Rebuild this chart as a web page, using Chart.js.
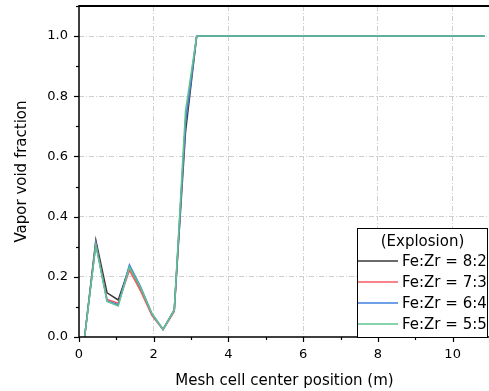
<!DOCTYPE html>
<html>
<head>
<meta charset="utf-8">
<script src="https://cdn.jsdelivr.net/npm/chart.js@4.4.1/dist/chart.umd.min.js"></script>
<style>
html,body{margin:0;padding:0;background:#fff;overflow:hidden;}
#wrap{position:relative;width:490px;height:391px;}
</style>
</head>
<body>
<div id="wrap"><canvas id="c"></canvas></div>
<script>
const positions = [0.15, 0.45, 0.75, 1.05, 1.35, 1.65, 1.95, 2.25, 2.55, 2.85, 3.15, 10.85];
const fe82 = [0, 0.322, 0.147, 0.123, 0.233, 0.160, 0.075, 0.025, 0.090, 0.68, 1.0, 1.0];
const fe73 = [0, 0.310, 0.125, 0.112, 0.222, 0.152, 0.072, 0.024, 0.085, 0.72, 1.0, 1.0];
const fe64 = [0, 0.310, 0.120, 0.107, 0.240, 0.167, 0.078, 0.025, 0.090, 0.71, 1.0, 1.0];
const fe55 = [0, 0.305, 0.118, 0.103, 0.233, 0.163, 0.078, 0.025, 0.090, 0.75, 1.0, 1.0];
const seriesLabels = ['Fe:Zr = 8:2', 'Fe:Zr = 7:3', 'Fe:Zr = 6:4', 'Fe:Zr = 5:5'];
const legendTitle = '(Explosion)';
const xTitle = 'Mesh cell center position (m)';
const yTitle = 'Vapor void fraction';

const FONT = "'DejaVu Sans', sans-serif";
const colors = ['#3a3a3a', '#f65a62', '#3f7fe0', '#5fc490'];
const allSeries = [fe82, fe73, fe64, fe55];

const datasets = allSeries.map((s, i) => ({
  label: seriesLabels[i],
  data: positions.map((x, j) => ({x: x, y: s[j]})),
  borderColor: colors[i],
  backgroundColor: colors[i],
  borderWidth: 1.5,
  pointRadius: 0,
  tension: 0,
  fill: false,
  order: 3 - i
}));

const gridColor = '#cfcfcf';

const framePlugin = {
  id: 'frame',
  afterDatasetsDraw(chart) {
    const ctx = chart.ctx;
    const a = chart.chartArea;
    const xs = chart.scales.x, ys = chart.scales.y;
    ctx.save();
    ctx.strokeStyle = '#000';
    ctx.lineWidth = 1.2;
    xs.ticks.forEach(t => {
      const px = Math.round(xs.getPixelForValue(t.value)) + 0.5;
      const major = Math.round(t.value) % 2 === 0;
      ctx.beginPath();
      ctx.moveTo(px, a.bottom);
      ctx.lineTo(px, a.bottom + (major ? 5 : 3));
      ctx.stroke();
    });
    ys.ticks.forEach(t => {
      const py = Math.round(ys.getPixelForValue(t.value)) + 0.5;
      const major = Math.round(t.value * 10) % 2 === 0;
      ctx.beginPath();
      ctx.moveTo(a.left, py);
      ctx.lineTo(a.left - (major ? 5 : 3), py);
      ctx.stroke();
    });
    ctx.lineWidth = 1.5;
    ctx.beginPath();
    ctx.moveTo(a.left, a.top);
    ctx.lineTo(a.left, a.bottom);
    ctx.lineTo(a.right, a.bottom);
    ctx.stroke();
    ctx.lineWidth = 2;
    ctx.beginPath();
    ctx.moveTo(a.left - 0.75, a.top);
    ctx.lineTo(a.right, a.top);
    ctx.stroke();

    const L = 357, T = 228, R = 488, B = a.bottom;
    ctx.fillStyle = '#fff';
    ctx.fillRect(L, T, R - L, B - T);
    ctx.lineWidth = 1;
    ctx.strokeStyle = '#000';
    ctx.strokeRect(L + 0.5, T + 0.5, R - L - 1, B - T);
    ctx.fillStyle = '#000';
    ctx.font = '15px ' + FONT;
    ctx.textBaseline = 'middle';
    ctx.textAlign = 'center';
    ctx.fillText(legendTitle, (L + R) / 2, 242);
    ctx.textAlign = 'left';
    const rows = [261, 282, 303, 324];
    chart.data.datasets.forEach((d, i) => {
      ctx.strokeStyle = d.borderColor;
      ctx.lineWidth = 1.5;
      ctx.beginPath();
      ctx.moveTo(358, rows[i]);
      ctx.lineTo(398, rows[i]);
      ctx.stroke();
      ctx.fillStyle = '#000';
      ctx.fillText(d.label, 402, rows[i] + 1);
    });
    ctx.restore();
  }
};

new Chart(document.getElementById('c'), {
  type: 'line',
  data: {datasets: datasets},
  options: {
    responsive: true,
    maintainAspectRatio: false,
    animation: false,
    devicePixelRatio: 1,
    layout: {padding: {left: 0, right: 0, top: 6, bottom: 0}},
    plugins: {legend: {display: false}, tooltip: {enabled: false}},
    scales: {
      x: {
        type: 'linear',
        min: 0, max: 11,
        afterFit(s) { s.height = 54; s.paddingLeft = 0; s.paddingRight = 0; },
        ticks: {
          stepSize: 1,
          autoSkip: false,
          maxRotation: 0,
          padding: 10,
          color: '#000',
          font: {family: FONT, size: 13},
          callback: v => (Math.round(v) % 2 === 0 && v <= 10) ? String(v) : ''
        },
        grid: {
          drawTicks: false,
          color: c => (c.tick && Math.round(c.tick.value) % 2 === 0 && c.tick.value > 0) ? gridColor : 'rgba(0,0,0,0)',
          lineWidth: 1
        },
        border: {display: false, dash: [5, 2, 1, 2]},
        title: {
          display: true,
          text: xTitle,
          color: '#000',
          font: {family: FONT, size: 15},
          padding: {top: 0, bottom: 1}
        }
      },
      y: {
        type: 'linear',
        min: 0, max: 1.1,
        afterFit(s) { s.width = 79; s.paddingTop = 0; s.paddingBottom = 0; },
        ticks: {
          stepSize: 0.1,
          autoSkip: false,
          padding: 11,
          color: '#000',
          font: {family: FONT, size: 13},
          callback: v => {
            const k = Math.round(v * 10);
            return (k % 2 === 0 && k <= 10) ? (k / 10).toFixed(1) : '';
          }
        },
        grid: {
          drawTicks: false,
          color: c => {
            if (!c.tick) return 'rgba(0,0,0,0)';
            const k = Math.round(c.tick.value * 10);
            return (k % 2 === 0 && k > 0 && k <= 10) ? gridColor : 'rgba(0,0,0,0)';
          },
          lineWidth: 1
        },
        border: {display: false, dash: [5, 2, 1, 2]},
        title: {
          display: true,
          text: yTitle,
          color: '#000',
          font: {family: FONT, size: 15},
          padding: {top: 13, bottom: 0}
        }
      }
    }
  },
  plugins: [framePlugin]
});
</script>
</body>
</html>
